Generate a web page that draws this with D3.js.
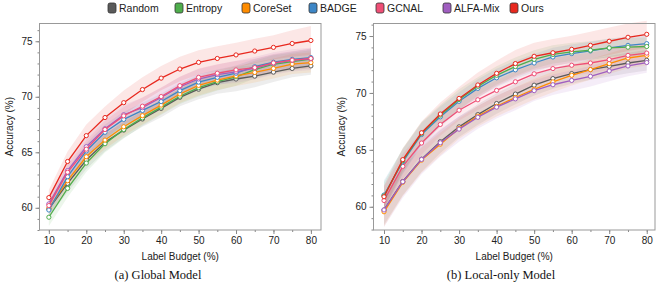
<!DOCTYPE html>
<html>
<head>
<meta charset="utf-8">
<script src="https://cdn.jsdelivr.net/npm/d3@7"></script>
<style>
  body { margin: 0; background: #fff; }
  svg { display: block; font-family: "Liberation Sans", Arial, sans-serif; }
  .tick text { fill: #222; font-size: 10px; }
  .caption { font-family: "Liberation Serif", "Times New Roman", serif; font-size: 12.5px; fill: #111; }
</style>
</head>
<body>
<div id="chart"></div>
<script>
// label budgets (%) on the x axis
var budgets = [10, 15, 20, 25, 30, 35, 40, 45, 50, 55, 60, 65, 70, 75, 80];

var methods = ["Random", "Entropy", "CoreSet", "BADGE", "GCNAL", "ALFA-Mix", "Ours"];
var colors = ["#5a5a5a", "#4fae4c", "#ff8c00", "#3d86c6", "#ef4f76", "#a05ec0", "#e8281e"];

// (a) Global Model - mean accuracy
var gRandom  = [59.9, 62.2, 64.3, 65.9, 67.0, 68.0, 68.95, 69.95, 70.68, 71.27, 71.6, 71.86, 72.22, 72.55, 72.78];
var gEntropy = [59.15, 61.75, 64.03, 65.77, 67.05, 68.1, 69.07, 70.05, 70.82, 71.36, 71.8, 72.45, 72.93, 73.17, 73.4];
var gCoreSet = [59.95, 62.44, 64.6, 66.1, 67.3, 68.3, 69.25, 70.25, 71.02, 71.5, 71.88, 72.19, 72.55, 72.95, 73.08];
var gBADGE   = [59.8, 62.8, 65.12, 66.8, 67.96, 68.77, 69.57, 70.55, 71.32, 71.75, 72.12, 72.71, 73.11, 73.37, 73.53];
var gGCNAL   = [60.2, 63.2, 65.28, 67.05, 68.28, 69.15, 70.02, 71.0, 71.75, 72.12, 72.42, 72.63, 73.05, 73.3, 73.45];
var gALFA    = [60.35, 63.35, 65.5, 67.12, 68.38, 69.02, 69.93, 70.9, 71.6, 72.0, 72.25, 72.58, 73.0, 73.28, 73.42];
var gOurs    = [60.92, 64.17, 66.5, 68.13, 69.47, 70.65, 71.68, 72.5, 73.1, 73.45, 73.77, 74.12, 74.45, 74.8, 75.07];

// (a) Global Model - std band
var gStdRandom  = [0.7, 0.8, 0.8, 0.8, 0.7, 0.7, 0.8, 0.8, 0.9, 1.0, 1.1, 1.0, 0.9, 0.8, 0.8];
var gStdEntropy = [0.8, 0.8, 0.8, 0.8, 0.8, 0.7, 0.7, 0.7, 0.8, 0.8, 0.8, 0.8, 0.8, 0.8, 0.8];
var gStdCoreSet = [0.7, 0.7, 0.7, 0.8, 0.8, 0.8, 0.8, 0.8, 0.9, 0.9, 0.9, 0.9, 0.9, 0.9, 0.9];
var gStdBADGE   = [0.6, 0.7, 0.7, 0.7, 0.7, 0.7, 0.7, 0.7, 0.7, 0.7, 0.7, 0.7, 0.7, 0.7, 0.8];
var gStdGCNAL   = [0.6, 0.7, 0.8, 0.8, 0.8, 0.8, 0.8, 0.8, 0.8, 0.8, 0.8, 0.8, 0.8, 0.8, 0.9];
var gStdALFA    = [0.7, 0.8, 0.9, 0.9, 0.9, 0.9, 0.9, 0.9, 0.9, 0.9, 1.0, 1.0, 1.0, 1.0, 1.0];
var gStdOurs    = [0.7, 0.9, 1.0, 1.0, 1.1, 1.1, 1.1, 1.1, 1.1, 1.1, 1.1, 1.1, 1.1, 1.2, 1.3];

// (b) Local-only Model - mean accuracy
var lRandom  = [59.72, 62.22, 64.18, 65.72, 67.02, 68.1, 69.07, 69.9, 70.68, 71.26, 71.7, 72.05, 72.34, 72.63, 72.87];
var lEntropy = [60.95, 64.05, 66.45, 68.05, 69.42, 70.58, 71.55, 72.32, 72.95, 73.38, 73.6, 73.75, 73.95, 74.02, 74.08];
var lCoreSet = [59.56, 62.15, 64.1, 65.5, 66.88, 67.96, 68.83, 69.6, 70.32, 70.97, 71.55, 72.05, 72.58, 73.07, 73.3];
var lBADGE   = [61.03, 63.95, 66.35, 67.9, 69.27, 70.4, 71.33, 72.03, 72.63, 73.16, 73.46, 73.69, 73.95, 74.18, 74.33];
var lGCNAL   = [60.55, 63.55, 65.6, 67.23, 68.48, 69.4, 70.22, 70.98, 71.68, 72.14, 72.43, 72.63, 72.93, 73.3, 73.5];
var lALFA    = [59.72, 62.2, 64.16, 65.62, 66.82, 67.86, 68.75, 69.48, 70.2, 70.72, 71.1, 71.46, 71.93, 72.37, 72.67];
var lOurs    = [60.88, 64.14, 66.5, 68.15, 69.52, 70.7, 71.72, 72.58, 73.22, 73.53, 73.83, 74.18, 74.54, 74.89, 75.15];

// (b) Local-only Model - std band
var lStdRandom  = [1.3, 1.2, 1.1, 1.0, 0.9, 0.9, 0.9, 0.9, 0.9, 0.9, 0.9, 0.9, 0.9, 0.9, 0.9];
var lStdEntropy = [1.2, 1.1, 1.0, 0.9, 0.9, 0.8, 0.8, 0.8, 0.8, 0.8, 0.8, 0.8, 0.8, 0.8, 0.8];
var lStdCoreSet = [1.3, 1.2, 1.1, 1.0, 0.9, 0.9, 0.9, 0.9, 0.9, 0.9, 0.9, 0.9, 0.9, 0.9, 0.9];
var lStdBADGE   = [1.3, 1.1, 1.0, 0.9, 0.8, 0.8, 0.8, 0.8, 0.8, 0.8, 0.8, 0.8, 0.8, 0.8, 0.8];
var lStdGCNAL   = [1.2, 1.1, 1.0, 1.0, 0.9, 0.9, 0.9, 0.9, 0.9, 0.9, 0.9, 0.9, 0.9, 0.9, 0.9];
var lStdALFA    = [1.5, 1.4, 1.3, 1.2, 1.1, 1.0, 1.0, 1.0, 0.9, 0.9, 0.9, 0.9, 0.9, 0.9, 0.9];
var lStdOurs    = [1.0, 1.0, 1.0, 1.0, 1.0, 1.1, 1.1, 1.2, 1.2, 1.2, 1.2, 1.2, 1.2, 1.2, 1.2];

var yTicks = [60, 65, 70, 75];
var xTicks = [10, 20, 30, 40, 50, 60, 70, 80];

var W = 664, H = 283;

var svg = d3.select("#chart")
  .append("svg")
  .attr("width", W)
  .attr("height", H);

// legend across the top
var legend = svg.append("g").attr("transform", "translate(108,3)");
methods.forEach(function (m, i) {
  var g = legend.append("g").attr("transform", "translate(" + (i * 67) + ",0)");
  g.append("rect")
    .attr("width", 8).attr("height", 10)
    .attr("rx", 2).attr("ry", 2)
    .attr("fill", colors[i])
    .attr("stroke", "#333")
    .attr("stroke-width", 0.8);
  g.append("text")
    .attr("x", 11).attr("y", 9)
    .style("font-size", "10.5px")
    .attr("fill", "#222")
    .text(m);
});

function drawPanel(opts) {
  var x = d3.scaleLinear().domain(opts.xDomain).range([opts.left, opts.right]);
  var y = d3.scaleLinear().domain(opts.yDomain).range([opts.bottom, opts.top]);

  var g = svg.append("g");

  // minor ticks
  g.append("g")
    .attr("transform", "translate(" + opts.left + ",0)")
    .call(d3.axisLeft(y).tickValues(d3.range(58, 77, 1)).tickSize(2).tickFormat(""))
    .call(function (a) { a.select(".domain").remove(); a.selectAll("line").attr("stroke", "#888"); });
  g.append("g")
    .attr("transform", "translate(0," + opts.bottom + ")")
    .call(d3.axisBottom(x).tickValues(d3.range(10, 85, 5)).tickSize(2).tickFormat(""))
    .call(function (a) { a.select(".domain").remove(); a.selectAll("line").attr("stroke", "#888"); });

  // major ticks + labels
  g.append("g")
    .attr("transform", "translate(" + opts.left + ",0)")
    .call(d3.axisLeft(y).tickValues(yTicks).tickSize(4).tickPadding(3))
    .call(function (a) { a.select(".domain").remove(); a.selectAll("line").attr("stroke", "#888"); });
  g.append("g")
    .attr("transform", "translate(0," + opts.bottom + ")")
    .call(d3.axisBottom(x).tickValues(xTicks).tickSize(4).tickPadding(3))
    .call(function (a) { a.select(".domain").remove(); a.selectAll("line").attr("stroke", "#888"); });

  var plot = g.append("g");

  var area = d3.area()
    .x(function (d) { return x(d.x); })
    .y0(function (d) { return y(d.m - d.s); })
    .y1(function (d) { return y(d.m + d.s); });
  var line = d3.line()
    .x(function (d) { return x(d.x); })
    .y(function (d) { return y(d.m); });

  var series = opts.means.map(function (vals, i) {
    return budgets.map(function (b, j) {
      return { x: b, m: vals[j], s: opts.stds[i][j] };
    });
  });

  series.forEach(function (s, i) {
    plot.append("path")
      .datum(s)
      .attr("d", area)
      .attr("fill", colors[i])
      .attr("fill-opacity", 0.11)
      .attr("stroke", "none");
  });

  opts.order.forEach(function (i) {
    var s = series[i];
    plot.append("path")
      .datum(s)
      .attr("d", line)
      .attr("fill", "none")
      .attr("stroke", colors[i])
      .attr("stroke-width", 1.3);
    plot.selectAll(".pt" + i)
      .data(s)
      .enter()
      .append("circle")
      .attr("cx", function (d) { return x(d.x); })
      .attr("cy", function (d) { return y(d.m); })
      .attr("r", 2.1)
      .attr("fill", "#fff")
      .attr("stroke", colors[i])
      .attr("stroke-width", 1);
  });

  // frame
  g.append("rect")
    .attr("x", opts.left).attr("y", opts.top)
    .attr("width", opts.right - opts.left)
    .attr("height", opts.bottom - opts.top)
    .attr("fill", "none")
    .attr("stroke", "#999")
    .attr("stroke-width", 1);

  // axis titles
  g.append("text")
    .attr("transform", "translate(" + opts.yLabelX + "," + ((opts.top + opts.bottom) / 2) + ") rotate(-90)")
    .attr("text-anchor", "middle")
    .attr("dy", "0.35em")
    .style("font-size", "10px")
    .attr("fill", "#222")
    .text("Accuracy (%)");
  g.append("text")
    .attr("x", (opts.left + opts.right) / 2)
    .attr("y", opts.bottom + 30)
    .attr("text-anchor", "middle")
    .style("font-size", "10px")
    .attr("fill", "#222")
    .text("Label Budget (%)");
  g.append("text")
    .attr("class", "caption")
    .attr("x", opts.captionX)
    .attr("y", 279)
    .attr("text-anchor", "middle")
    .text(opts.caption);
}

drawPanel({
  left: 39.5, right: 321, top: 23.5, bottom: 230,
  xDomain: [7.5, 82.7], yDomain: [58.0, 76.6],
  means: [gRandom, gEntropy, gCoreSet, gBADGE, gGCNAL, gALFA, gOurs],
  stds: [gStdRandom, gStdEntropy, gStdCoreSet, gStdBADGE, gStdGCNAL, gStdALFA, gStdOurs],
  order: [0, 1, 2, 3, 5, 4, 6],
  yLabelX: 9,
  captionX: 158,
  caption: "(a) Global Model"
});

drawPanel({
  left: 373.5, right: 655, top: 23.5, bottom: 230,
  xDomain: [7.2, 82.2], yDomain: [57.96, 76.1],
  means: [lRandom, lEntropy, lCoreSet, lBADGE, lGCNAL, lALFA, lOurs],
  stds: [lStdRandom, lStdEntropy, lStdCoreSet, lStdBADGE, lStdGCNAL, lStdALFA, lStdOurs],
  order: [0, 2, 5, 4, 3, 1, 6],
  yLabelX: 341,
  captionX: 501,
  caption: "(b) Local-only Model"
});
</script>
</body>
</html>
